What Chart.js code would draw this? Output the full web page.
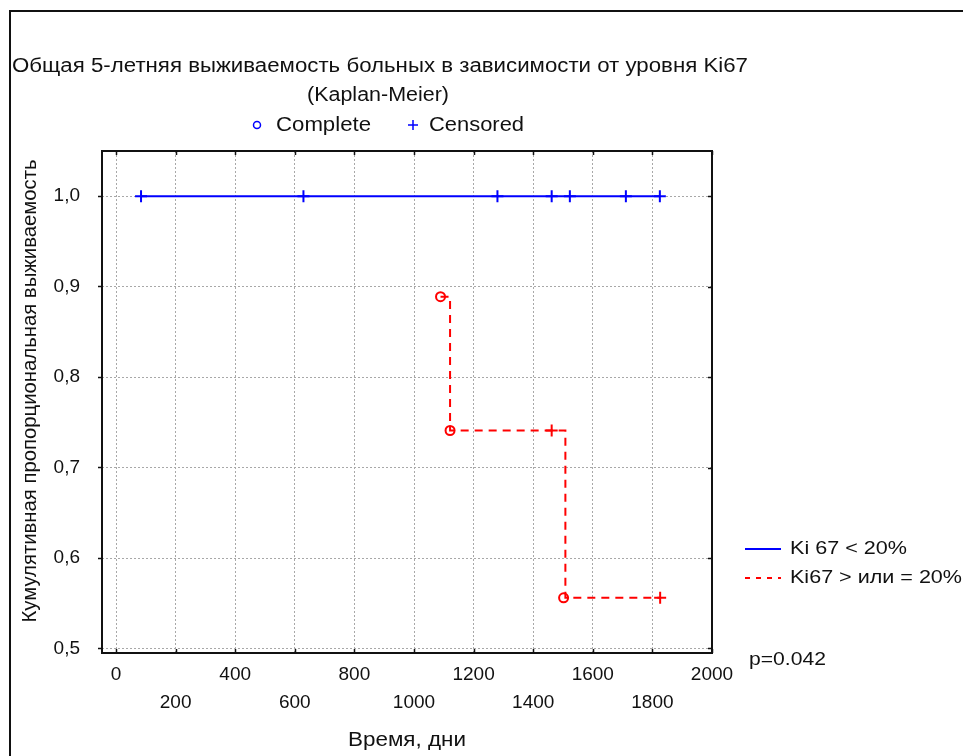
<!DOCTYPE html>
<html>
<head>
<meta charset="utf-8">
<title>Kaplan-Meier Ki67</title>
<script src="https://cdn.jsdelivr.net/npm/chart.js@4/dist/chart.umd.min.js"></script>
<style>
  body { margin: 0; background: #fff; }
  canvas { display: block; }
</style>
</head>
<body>
<canvas id="km-chart" width="963" height="756"></canvas>
<script>
// Ki 67 < 20% - all censored, survival stays at 1
const blueCensoredDays = [84, 629, 1280, 1462, 1523, 1711, 1825];
const blueSurvival = [1, 1, 1, 1, 1, 1, 1];

// Ki67 >= 20% - step curve
const redStepDays = [1089, 1121, 1508, 1826];
const redStepSurvival = [0.889, 0.741, 0.556, 0.556];
const redCompleteDays = [1089, 1121, 1502];
const redCompleteSurvival = [0.889, 0.741, 0.556];
const redCensoredDays = [1462, 1826];
const redCensoredSurvival = [0.741, 0.556];

const xTicks = [0, 200, 400, 600, 800, 1000, 1200, 1400, 1600, 1800, 2000];
const yTicks = [0.5, 0.6, 0.7, 0.8, 0.9, 1.0];

const titleLines = ['Общая 5-летняя выживаемость больных в зависимости от уровня Ki67', '(Kaplan-Meier)'];
const xTitle = 'Время, дни';
const yTitle = 'Кумулятивная пропорциональная выживаемость';
const seriesNames = ['Ki 67 < 20%', 'Ki67 > или = 20%'];
const pValue = 'p=0.042';

const FONT = '"Liberation Sans", Arial, sans-serif';
const BLUE = '#0000ff';
const RED = '#ff0000';
const TEXT = '#111';

function pts(xs, ys) {
    return xs.map((x, i) => ({ x: x, y: ys[i] }));
}

// draw text squeezed/stretched to the width it has in the picture
function fitText(ctx, text, x, y, width, size, align, rot) {
    ctx.save();
    ctx.font = size + 'px ' + FONT;
    ctx.fillStyle = TEXT;
    ctx.textBaseline = 'middle';
    ctx.textAlign = align || 'center';
    const w = ctx.measureText(text).width;
    ctx.translate(x, y);
    if (rot) ctx.rotate(rot);
    ctx.scale(width / w, 1);
    ctx.fillText(text, 0, 0);
    ctx.restore();
}

// frame, inner tick marks, titles and side legend
const decor = {
    id: 'decor',
    beforeDraw(chart) {
        const ctx = chart.ctx;
        ctx.save();
        ctx.fillStyle = '#fff';
        ctx.fillRect(0, 0, chart.width, chart.height);
        ctx.strokeStyle = '#111';
        ctx.lineWidth = 2;
        ctx.beginPath();
        ctx.moveTo(10, chart.height);
        ctx.lineTo(10, 11);
        ctx.lineTo(chart.width, 11);
        ctx.stroke();
        ctx.restore();
    },
    afterDraw(chart) {
        const ctx = chart.ctx;
        const a = chart.chartArea;
        const xs = chart.scales.x, ys = chart.scales.y;
        ctx.save();
        ctx.strokeStyle = '#111';
        ctx.lineWidth = 2;
        ctx.strokeRect(a.left, a.top, a.right - a.left, a.bottom - a.top);
        ctx.lineWidth = 1.5;
        ctx.beginPath();
        xTicks.forEach(v => {
            const px = Math.round(xs.getPixelForValue(v)) + 0.5;
            ctx.moveTo(px, a.top); ctx.lineTo(px, a.top + 4);
            ctx.moveTo(px, a.bottom); ctx.lineTo(px, a.bottom - 4);
        });
        yTicks.forEach(v => {
            const py = Math.round(ys.getPixelForValue(v)) + 0.5;
            ctx.moveTo(a.right, py); ctx.lineTo(a.right - 4, py);
        });
        ctx.stroke();

        // titles
        fitText(ctx, titleLines[0], 380, 66, 736, 20);
        fitText(ctx, titleLines[1], 378, 95, 142, 20);
        fitText(ctx, xTitle, 407, 740, 118, 20);
        fitText(ctx, yTitle, 30, 391, 463, 20, 'center', -Math.PI / 2);

        // marker legend
        ctx.strokeStyle = BLUE;
        ctx.lineWidth = 1.5;
        ctx.beginPath();
        ctx.arc(257, 125, 3.5, 0, Math.PI * 2);
        ctx.stroke();
        ctx.beginPath();
        ctx.moveTo(408, 125); ctx.lineTo(418, 125);
        ctx.moveTo(413, 120); ctx.lineTo(413, 130);
        ctx.stroke();
        fitText(ctx, 'Complete', 276, 125, 95, 20, 'left');
        fitText(ctx, 'Censored', 429, 125, 95, 20, 'left');

        // series legend
        ctx.lineWidth = 2;
        ctx.strokeStyle = BLUE;
        ctx.beginPath();
        ctx.moveTo(745, 549); ctx.lineTo(781, 549);
        ctx.stroke();
        ctx.strokeStyle = RED;
        ctx.setLineDash([5, 6]);
        ctx.beginPath();
        ctx.moveTo(745, 578); ctx.lineTo(781, 578);
        ctx.stroke();
        ctx.setLineDash([]);
        fitText(ctx, seriesNames[0], 790, 549, 117, 19, 'left');
        fitText(ctx, seriesNames[1], 790, 578, 172, 19, 'left');
        fitText(ctx, pValue, 749, 660, 77, 19, 'left');
        ctx.restore();
    }
};

const ctx = document.getElementById('km-chart').getContext('2d');
new Chart(ctx, {
    type: 'line',
    data: {
        datasets: [{
            label: seriesNames[0],
            data: pts(blueCensoredDays, blueSurvival),
            borderColor: BLUE,
            borderWidth: 2,
            pointStyle: 'cross',
            pointRadius: 6,
            pointBorderWidth: 2,
            pointBorderColor: BLUE,
            fill: false
        }, {
            label: seriesNames[1],
            data: pts(redStepDays, redStepSurvival),
            borderColor: RED,
            borderWidth: 2,
            borderDash: [8, 6],
            stepped: true,
            pointRadius: 0,
            fill: false
        }, {
            label: 'Complete',
            data: pts(redCompleteDays, redCompleteSurvival),
            showLine: false,
            pointStyle: 'circle',
            pointRadius: 4.5,
            pointBorderWidth: 2,
            pointBorderColor: RED,
            pointBackgroundColor: '#fff'
        }, {
            label: 'Censored',
            data: pts(redCensoredDays, redCensoredSurvival),
            showLine: false,
            pointStyle: 'cross',
            pointRadius: 6,
            pointBorderWidth: 2,
            pointBorderColor: RED
        }]
    },
    options: {
        responsive: false,
        animation: false,
        layout: { padding: { left: 0, top: 151, right: 251, bottom: 0 } },
        plugins: {
            legend: { display: false },
            tooltip: { enabled: false }
        },
        scales: {
            x: {
                type: 'linear',
                min: -47,
                max: 2000,
                afterBuildTicks: s => { s.ticks = xTicks.map(v => ({ value: v })); },
                afterFit: s => { s.height = 103; },
                grid: { color: '#a8a8a8', drawTicks: false },
                border: { display: false, dash: [2, 2] },
                ticks: {
                    padding: 8,
                    color: TEXT,
                    maxRotation: 0,
                    autoSkip: false,
                    font: { family: FONT, size: 19, lineHeight: 28 / 19 },
                    callback: (v, i) => i % 2 === 0 ? [String(v)] : ['', String(v)]
                }
            },
            y: {
                type: 'linear',
                min: 0.495,
                max: 1.05,
                afterBuildTicks: s => { s.ticks = yTicks.map(v => ({ value: v })); },
                afterFit: s => { s.width = 102; },
                grid: { color: '#a8a8a8', tickColor: '#111', tickLength: 4, tickWidth: 1.5 },
                border: { display: false, dash: [2, 2] },
                ticks: {
                    padding: 18,
                    color: TEXT,
                    font: { family: FONT, size: 19 },
                    callback: v => v.toFixed(1).replace('.', ',')
                }
            }
        }
    },
    plugins: [decor]
});
</script>
</body>
</html>
